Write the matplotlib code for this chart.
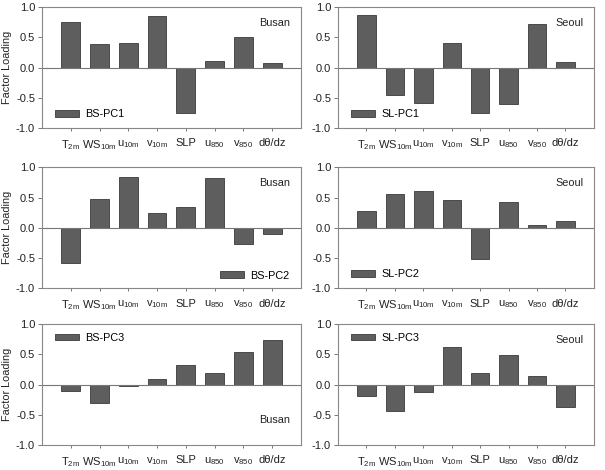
import numpy as np
import matplotlib.pyplot as plt

plt.rcParams['font.family'] = ['Liberation Sans', 'DejaVu Sans']
plt.rcParams['mathtext.fontset'] = 'custom'
plt.rcParams['mathtext.rm'] = 'Liberation Sans'
plt.rcParams['mathtext.it'] = 'Liberation Sans'
plt.rcParams['mathtext.default'] = 'regular'

variables = [r'T$_{2m}$', r'WS$_{10m}$', r'u$_{10m}$', r'v$_{10m}$', 'SLP',
             r'u$_{850}$', r'v$_{850}$', 'dθ/dz']

bs_pc1 = [0.75, 0.39, 0.40, 0.85, -0.75, 0.11, 0.50, 0.08]
sl_pc1 = [0.87, -0.45, -0.58, 0.41, -0.76, -0.61, 0.72, 0.09]
bs_pc2 = [-0.58, 0.48, 0.84, 0.25, 0.35, 0.83, -0.27, -0.11]
sl_pc2 = [0.27, 0.56, 0.61, 0.46, -0.51, 0.42, 0.05, 0.11]
bs_pc3 = [-0.10, -0.30, -0.02, 0.10, 0.33, 0.20, 0.54, 0.74]
sl_pc3 = [-0.19, -0.44, -0.12, 0.63, 0.19, 0.49, 0.14, -0.37]

panels = [
    (bs_pc1, 'BS-PC1', 'Busan', 'lower left', 'top'),
    (sl_pc1, 'SL-PC1', 'Seoul', 'lower left', 'top'),
    (bs_pc2, 'BS-PC2', 'Busan', 'lower right', 'top'),
    (sl_pc2, 'SL-PC2', 'Seoul', 'lower left', 'top'),
    (bs_pc3, 'BS-PC3', 'Busan', 'upper left', 'bottom'),
    (sl_pc3, 'SL-PC3', 'Seoul', 'upper left', 'top'),
]
anchors = {'lower left': (0.016, 0, 1, 1),
           'upper left': (0.016, 0, 1, 1),
           'lower right': (-0.012, -0.01, 1, 1)}

fig = plt.figure(figsize=(6.05, 4.70), dpi=100)
lefts = [0.0694, 0.5587]
widths = [0.428, 0.423]
bottoms = [0.7277, 0.387, 0.0532]
h = 0.257

x = np.arange(1, len(variables) + 1)
for i, (vals, name, city, legloc, cpos) in enumerate(panels):
    r, c = divmod(i, 2)
    ax = fig.add_axes([lefts[c], bottoms[r], widths[c], h])
    ax.bar(x, vals, width=0.65, color='#5e5e5e', edgecolor='#3a3a3a',
           linewidth=0.6, label=name)
    ax.axhline(0, color='#777777', linewidth=0.8)
    ax.set_xlim(0, 9)
    ax.set_ylim(-1, 1)
    ax.set_yticks([-1, -0.5, 0, 0.5, 1])
    ax.set_yticklabels(['-1.0', '-0.5', '0.0', '0.5', '1.0'])
    ax.set_xticks(x)
    ax.set_xticklabels(variables)
    ax.tick_params(labelsize=8, color='#777777', length=3, width=0.7,
                   colors='#222222', pad=2)
    ax.tick_params(axis='x', labelsize=8, pad=5, length=2.5)
    for s in ax.spines.values():
        s.set_color('#888888')
        s.set_linewidth(0.8)
    if c == 0:
        ax.set_ylabel('Factor Loading', fontsize=7.8, color='#222222',
                      labelpad=3)
    if cpos == 'top':
        ax.text(0.96, 0.87, city, transform=ax.transAxes, ha='right',
                va='center', fontsize=7.8, color='#222222')
    else:
        ax.text(0.96, 0.21, city, transform=ax.transAxes, ha='right',
                va='center', fontsize=7.8, color='#222222')
    ax.legend(loc=legloc, bbox_to_anchor=anchors[legloc], frameon=False,
              fontsize=7.8, handlelength=2.2, handleheight=0.6,
              borderaxespad=0.3, handletextpad=0.6, borderpad=0.5)

fig.savefig('out.png', dpi=100)
